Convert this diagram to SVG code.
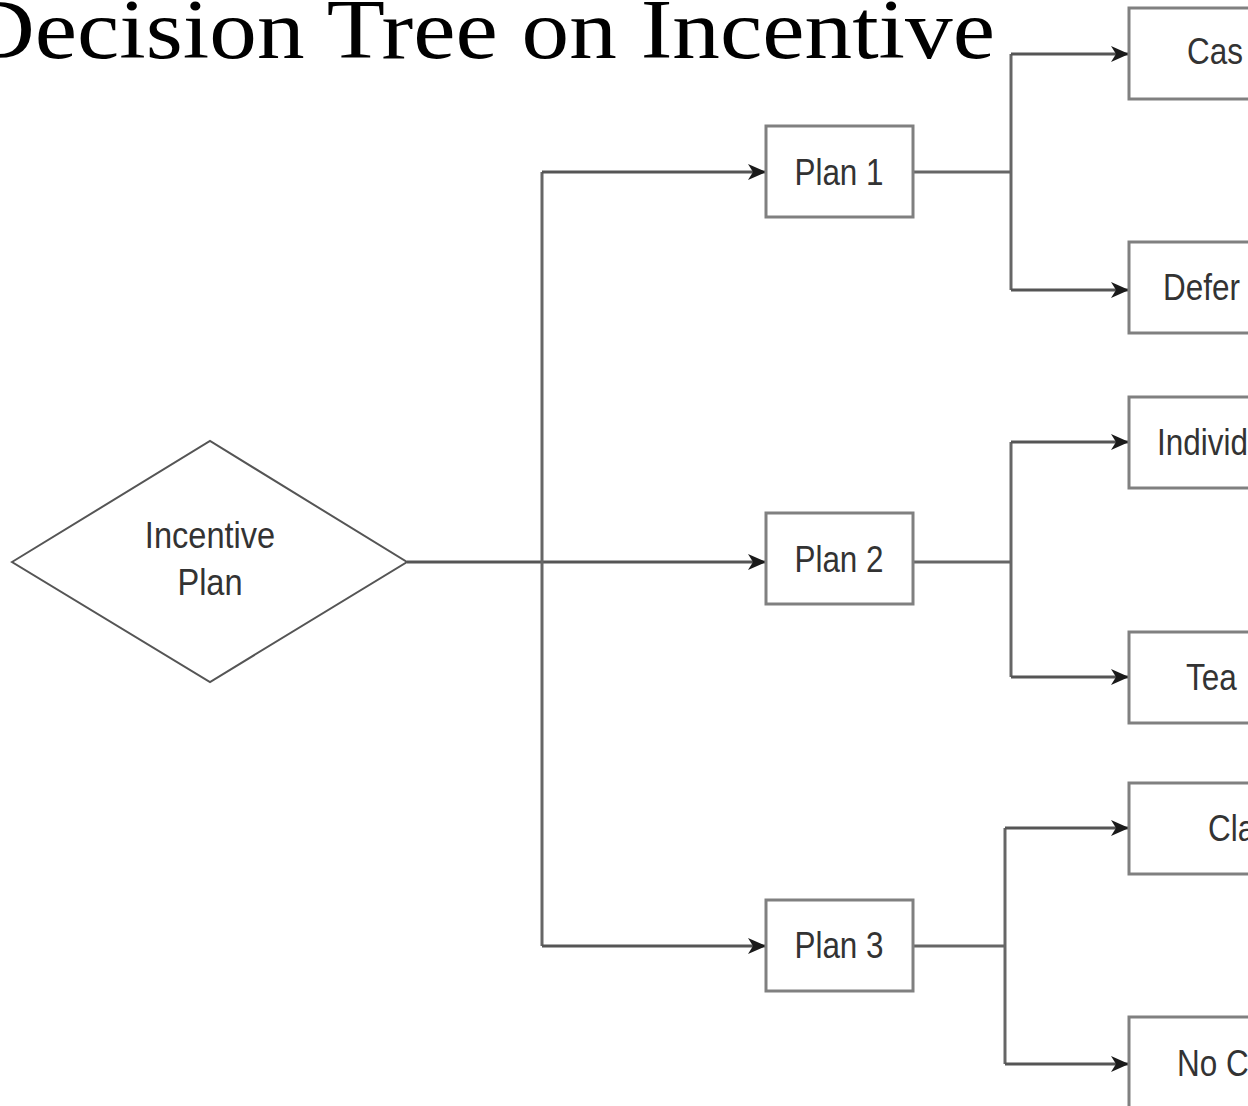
<svg xmlns="http://www.w3.org/2000/svg" width="1248" height="1106" viewBox="0 0 1248 1106">
<defs>
<marker id="arr" markerUnits="userSpaceOnUse" markerWidth="20" markerHeight="18" refX="18" refY="9" orient="auto">
<path d="M0,1 L18,9 L0,17 L5,9 Z" fill="#1a1a1a"/>
</marker>
</defs>
<style>
.box{fill:#fff;stroke:#808080;stroke-width:3}
.dia{fill:#fff;stroke:#555;stroke-width:2}
.lbl{font-family:"Liberation Sans",Arial,sans-serif;font-size:37px;fill:#333}
.title{font-family:"Liberation Serif","Times New Roman",serif;font-size:84px;fill:#000}
.ln{fill:none;stroke:#666;stroke-width:3}
.ar{fill:none;stroke:#555;stroke-width:3;marker-end:url(#arr)}
</style>
<rect width="1248" height="1106" fill="#fff"/>
<text class="title" transform="translate(-34 58) scale(1.134 1)">Decision Tree on Incentive</text>

<g id="connectors">
<line class="ar" x1="407" y1="562" x2="766" y2="562"/>
<polyline class="ln" points="542,172 542,946"/>
<polyline class="ar" points="542,172 766,172"/>
<polyline class="ar" points="542,946 766,946"/>
<polyline class="ln" points="913,172 1011,172"/>
<polyline class="ln" points="1011,54 1011,290"/>
<polyline class="ar" points="1011,54 1129,54"/>
<polyline class="ar" points="1011,290 1129,290"/>
<polyline class="ln" points="913,562 1011,562"/>
<polyline class="ln" points="1011,442 1011,677"/>
<polyline class="ar" points="1011,442 1129,442"/>
<polyline class="ar" points="1011,677 1129,677"/>
<polyline class="ln" points="913,946 1005,946"/>
<polyline class="ln" points="1005,828 1005,1064"/>
<polyline class="ar" points="1005,828 1129,828"/>
<polyline class="ar" points="1005,1064 1129,1064"/>
</g>

<g id="incentive-plan">
<polygon class="dia" points="12,562 210,441 407,562 210,682"/>
<text class="lbl" transform="translate(210 548) scale(0.88 1)" text-anchor="middle">Incentive</text>
<text class="lbl" transform="translate(210 595) scale(0.88 1)" text-anchor="middle">Plan</text>
</g>

<g id="plan1">
<rect class="box" x="766" y="126" width="147" height="91"/>
<text class="lbl" transform="translate(839 185) scale(0.85 1)" text-anchor="middle">Plan 1</text>
</g>
<g id="plan2">
<rect class="box" x="766" y="513" width="147" height="91"/>
<text class="lbl" transform="translate(839 572) scale(0.85 1)" text-anchor="middle">Plan 2</text>
</g>
<g id="plan3">
<rect class="box" x="766" y="900" width="147" height="91"/>
<text class="lbl" transform="translate(839 958) scale(0.85 1)" text-anchor="middle">Plan 3</text>
</g>

<g id="leaf-cash">
<rect class="box" x="1129" y="8" width="200" height="91"/>
<text class="lbl" transform="translate(1187 64) scale(0.85 1)">Cas</text>
</g>
<g id="leaf-defer">
<rect class="box" x="1129" y="242" width="200" height="91"/>
<text class="lbl" transform="translate(1163 300) scale(0.85 1)">Defer</text>
</g>
<g id="leaf-indiv">
<rect class="box" x="1129" y="397" width="200" height="91"/>
<text class="lbl" transform="translate(1157 455) scale(0.85 1)">Individ</text>
</g>
<g id="leaf-team">
<rect class="box" x="1129" y="632" width="200" height="91"/>
<text class="lbl" transform="translate(1186 690) scale(0.85 1)">Tea</text>
</g>
<g id="leaf-cl">
<rect class="box" x="1129" y="783" width="200" height="91"/>
<text class="lbl" transform="translate(1208 841) scale(0.85 1)">Cla</text>
</g>
<g id="leaf-noc">
<rect class="box" x="1129" y="1017" width="200" height="91"/>
<text class="lbl" transform="translate(1177 1076) scale(0.85 1)">No C</text>
</g>
</svg>
